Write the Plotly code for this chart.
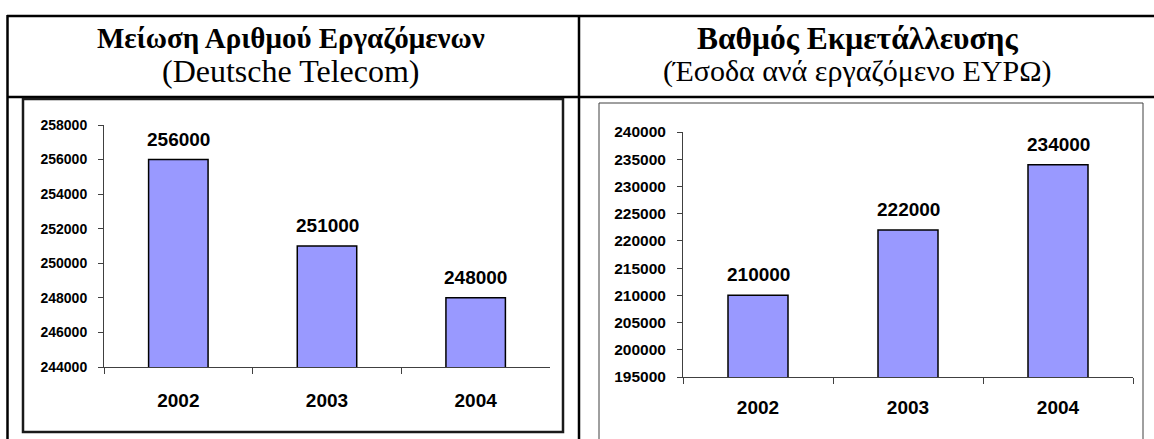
import plotly.graph_objects as go

W, H = 1154, 439

years = ["2002", "2003", "2004"]
employees = [256000, 251000, 248000]
revenue_per_employee = [210000, 222000, 234000]

left_title = "Μείωση Αριθμού Εργαζόμενων"
left_sub = "(Deutsche Telecom)"
right_title = "Βαθμός Εκμετάλλευσης"
right_sub = "(Έσοδα ανά εργαζόμενο ΕΥΡΩ)"


def px(x):
    return x / W


def py(y):
    return 1 - y / H


fig = go.Figure()
bar_style = dict(marker=dict(color="#9999FF", line=dict(color="#000000", width=1.5)),
                 width=0.4, showlegend=False, hoverinfo="skip")
fig.add_trace(go.Bar(x=years, y=employees, xaxis="x", yaxis="y", **bar_style))
fig.add_trace(go.Bar(x=years, y=revenue_per_employee, xaxis="x2", yaxis="y2", **bar_style))

num_font = "Liberation Sans, Arial, sans-serif"
ax_common = dict(showline=True, linecolor="#404040", linewidth=1, ticks="outside",
                 tickcolor="#404040", showgrid=False, zeroline=False, automargin=False)

fig.update_layout(
    template="none",
    width=W, height=H, margin=dict(l=0, r=0, t=0, b=0, pad=0, autoexpand=False),
    paper_bgcolor="white", plot_bgcolor="white",
    xaxis=dict(domain=[px(104), px(550)], anchor="y", type="category",
               range=[-0.5, 2.5], tickson="boundaries", ticklen=6,
               ticklabelstandoff=16,
               tickfont=dict(family=num_font, size=19, color="black", weight="bold"),
               **ax_common),
    yaxis=dict(domain=[py(367), py(125)], anchor="x", range=[244000, 258000],
               dtick=2000, tick0=244000, ticklen=5, ticklabelstandoff=8,
               tickformat="d",
               tickfont=dict(family=num_font, size=14, color="black", weight="bold"),
               **ax_common),
    xaxis2=dict(domain=[px(683), px(1133)], anchor="y2", type="category",
                range=[-0.5, 2.5], tickson="boundaries", ticklen=6,
                ticklabelstandoff=13,
                tickfont=dict(family=num_font, size=19, color="black", weight="bold"),
                **ax_common),
    yaxis2=dict(domain=[py(377), py(132)], anchor="x2", range=[195000, 240000],
                dtick=5000, tick0=195000, ticklen=5, ticklabelstandoff=8,
                tickformat="d",
                tickfont=dict(family=num_font, size=15.5, color="black", weight="bold"),
                **ax_common),
)

annotations = []
for xs, ys, xr, yr in [(years, employees, "x", "y"), (years, revenue_per_employee, "x2", "y2")]:
    for i, (xv, yv) in enumerate(zip(xs, ys)):
        annotations.append(dict(x=i, y=yv, xref=xr, yref=yr, text=f"<b>{yv}</b>",
                                showarrow=False, yanchor="bottom", yshift=8,
                                font=dict(family=num_font, size=19, color="black")))

serif = "Liberation Serif, Times New Roman, serif"
for cx, t, s, ts, ss in [(291, left_title, left_sub, 29, 32), (857, right_title, right_sub, 31.5, 30)]:
    annotations.append(dict(x=px(cx), y=py(38), xref="paper", yref="paper", text=f"<b>{t}</b>",
                            showarrow=False, xanchor="center", yanchor="middle",
                            font=dict(family=serif, size=ts, color="black")))
    annotations.append(dict(x=px(cx), y=py(71), xref="paper", yref="paper", text=s,
                            showarrow=False, xanchor="center", yanchor="middle",
                            font=dict(family=serif, size=ss, color="black")))
fig.update_layout(annotations=annotations)

shapes = []
def line(x0, y0, x1, y1, w=2, c="black"):
    shapes.append(dict(type="line", xref="paper", yref="paper", x0=px(x0), y0=py(y0),
                       x1=px(x1), y1=py(y1), line=dict(color=c, width=w)))

line(7, 16, 1160, 16, 2.5)
line(7, 97, 1160, 97, 2.5)
line(7.5, 15, 7.5, 445, 2.5)
line(579, 15, 579, 445, 2.5)
shapes.append(dict(type="rect", xref="paper", yref="paper", x0=px(23), x1=px(563),
                   y0=py(432), y1=py(99), line=dict(color="#1a1a1a", width=2.5)))
shapes.append(dict(type="rect", xref="paper", yref="paper", x0=px(599), x1=px(1143),
                   y0=py(450), y1=py(103), line=dict(color="#404040", width=1)))
fig.update_layout(shapes=shapes)

fig.write_html("out.html", config={"displayModeBar": False},
               post_script="document.body.style.margin='0';document.body.style.overflow='hidden';")
